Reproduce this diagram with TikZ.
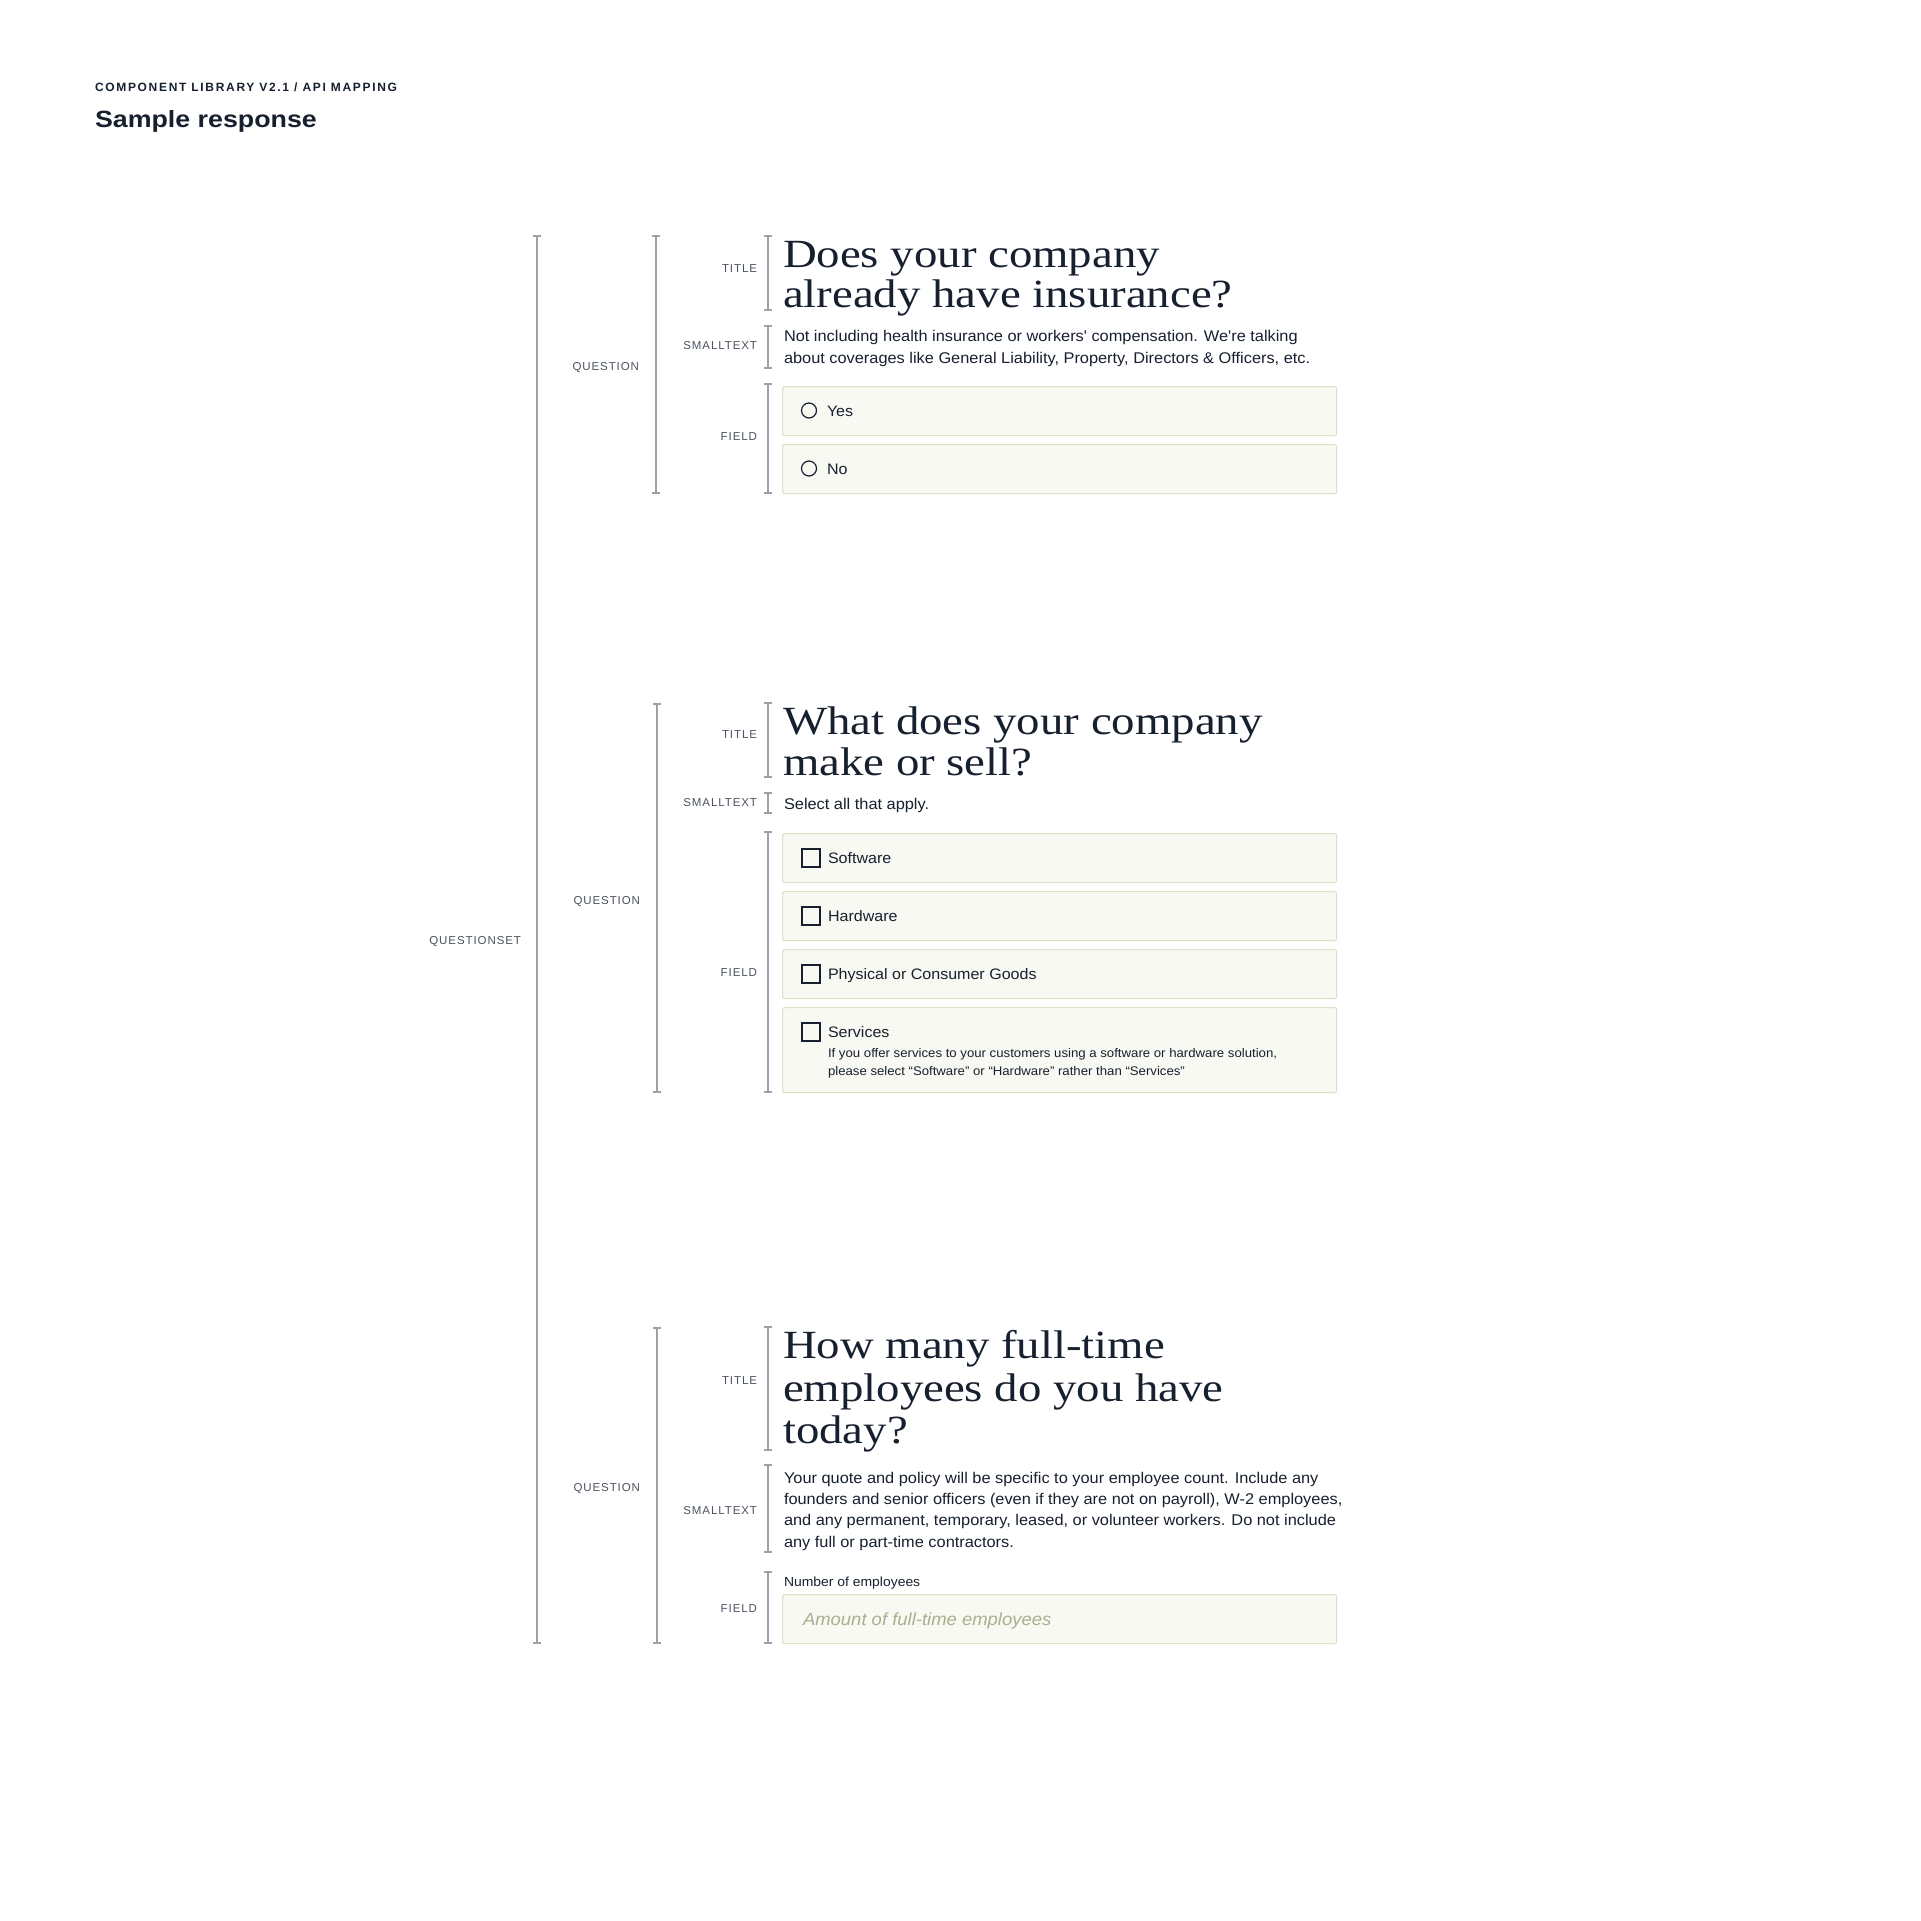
\documentclass[tikz,border=0pt]{standalone}
\usepackage{fontspec}
\setmainfont{Liberation Sans}
\newfontfamily\bodyf{Liberation Sans}[FakeStretch=1.055]
\newfontfamily\titlef{Liberation Serif}[FakeStretch=1.17]
\newfontfamily\labelf{Liberation Sans}[LetterSpace=8]
\newfontfamily\headf{Liberation Sans}[LetterSpace=14]
\newfontfamily\bigf{Liberation Sans}[FakeStretch=1.14]
\definecolor{ink}{HTML}{17202F}
\definecolor{lbl}{HTML}{4B5260}
\definecolor{brk}{HTML}{9CA1AA}
\definecolor{boxfill}{HTML}{F8F9F2}
\definecolor{boxline}{HTML}{DDE2C6}
\definecolor{ph}{HTML}{A9AF8E}
\newcommand\bmark[3]{\draw[brkline] (#1-4,#2) -- (#1+4,#2) (#1,#2) -- (#1,#3) (#1-4,#3) -- (#1+4,#3);}
\begin{document}
\begin{tikzpicture}[x=1pt,y=-1pt,
  txt/.style={inner sep=0pt, outer sep=0pt, anchor=base west, text=ink},
  ttl/.style={txt, font=\titlef\fontsize{40}{40}\selectfont},
  body/.style={txt, font=\bodyf\fontsize{15.5}{15.5}\selectfont},
  opt/.style={txt, font=\bodyf\fontsize{15.2}{15.2}\selectfont},
  hint/.style={txt, font=\bodyf\fontsize{12.5}{12.5}\selectfont},
  lab/.style={inner sep=0pt, outer sep=0pt, anchor=base east, text=lbl, font=\labelf\fontsize{11.5}{11.5}\selectfont},
  brkline/.style={draw=brk, line width=1.3pt},
  optbox/.style={draw=boxline, fill=boxfill, line width=1.2pt, rounded corners=1.5pt, inner sep=0pt, anchor=north west, minimum width=554pt},
  radio/.style={draw=ink, line width=1.2pt},
  check/.style={draw=ink, line width=1.3pt}]
\useasboundingbox[fill=white] (0,0) rectangle (1920,1921);

% header
\node[txt, font=\headf\bfseries\fontsize{12}{12}\selectfont] (hdr) at (95,92) {COMPONENT LIBRARY V2.1 / API MAPPING};
\node[txt, font=\bigf\bfseries\fontsize{23.5}{23.5}\selectfont] (sub) at (95,128) {Sample response};

% brackets
\bmark{537}{236}{1643}
\bmark{656}{236}{493}
\bmark{657}{704}{1092}
\bmark{657}{1328}{1643}
\bmark{768}{236}{310}
\bmark{768}{326}{368}
\bmark{768}{384}{493}
\bmark{768}{703}{777}
\bmark{768}{793}{813}
\bmark{768}{832}{1092}
\bmark{768}{1327}{1450}
\bmark{768}{1465}{1552}
\bmark{768}{1572}{1643}

% labels
\node[lab] (lqs) at (521,944.6) {QUESTIONSET};
\node[lab] (lq1) at (639,370.1) {QUESTION};
\node[lab] (lq2) at (640,904.1) {QUESTION};
\node[lab] (lq3) at (640,1491.1) {QUESTION};
\node[lab] (l1t) at (757,272.1) {TITLE};
\node[lab] (l1s) at (757,349.1) {SMALLTEXT};
\node[lab] (l1f) at (757,440.1) {FIELD};
\node[lab] (l2t) at (757,738.1) {TITLE};
\node[lab] (l2s) at (757,806.1) {SMALLTEXT};
\node[lab] (l2f) at (757,976.1) {FIELD};
\node[lab] (l3t) at (757,1384.1) {TITLE};
\node[lab] (l3s) at (757,1514.1) {SMALLTEXT};
\node[lab] (l3f) at (757,1612.1) {FIELD};

% question 1
\node[ttl] (t1a) at (783,267) {Does your company};
\node[ttl] (t1b) at (783,307.5) {already have insurance?};
\node[body] (s1a) at (784,341) {Not including health insurance or workers' compensation. We're talking};
\node[body] (s1b) at (784,363) {about coverages like General Liability, Property, Directors \& Officers, etc.};
\node[optbox, minimum height=49pt] (bYes) at (782,386) {};
\node[optbox, minimum height=49pt] (bNo) at (782,444) {};
\draw[radio] (809,410.5) circle (7.5pt);
\draw[radio] (809,468.5) circle (7.5pt);
\node[opt] (oYes) at (827,416.5) {Yes};
\node[opt] (oNo) at (827,474.5) {No};

% question 2
\node[ttl] (t2a) at (783,734) {What does your company};
\node[ttl] (t2b) at (783,775) {make or sell?};
\node[body] (s2a) at (784,809) {Select all that apply.};
\node[optbox, minimum height=49pt] (bSw) at (782,833) {};
\node[optbox, minimum height=49pt] (bHw) at (782,891) {};
\node[optbox, minimum height=49pt] (bPh) at (782,949) {};
\node[optbox, minimum height=85pt] (bSv) at (782,1007) {};
\draw[check] (802,849) rectangle (820,867);
\draw[check] (802,907) rectangle (820,925);
\draw[check] (802,965) rectangle (820,983);
\draw[check] (802,1023) rectangle (820,1041);
\node[opt] (oSw) at (828,863.5) {Software};
\node[opt] (oHw) at (828,921.5) {Hardware};
\node[opt] (oPh) at (828,979.5) {Physical or Consumer Goods};
\node[opt] (oSv) at (828,1037.5) {Services};
\node[hint] (h1) at (828,1057) {If you offer services to your customers using a software or hardware solution,};
\node[hint] (h2) at (828,1075) {please select “Software” or “Hardware” rather than “Services”};

% question 3
\node[ttl] (t3a) at (783,1358) {How many full-time};
\node[ttl] (t3b) at (783,1401) {employees do you have};
\node[ttl] (t3c) at (783,1443.5) {today?};
\node[body] (s3a) at (784,1483) {Your quote and policy will be specific to your employee count. Include any};
\node[body] (s3b) at (784,1504) {founders and senior officers (even if they are not on payroll), W-2 employees,};
\node[body] (s3c) at (784,1525.5) {and any permanent, temporary, leased, or volunteer workers. Do not include};
\node[body] (s3d) at (784,1547) {any full or part-time contractors.};
\node[txt, font=\bodyf\fontsize{13.2}{13.2}\selectfont] (nlab) at (784,1586) {Number of employees};
\node[optbox, minimum height=49pt] (bNum) at (782,1594) {};
\node[txt, text=ph, font=\bodyf\itshape\fontsize{17.5}{17.5}\selectfont] (phl) at (803,1625) {Amount of full-time employees};
\end{tikzpicture}
\end{document}
